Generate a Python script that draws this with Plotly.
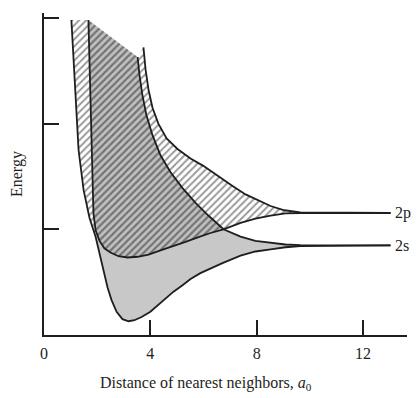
import numpy as np
import plotly.graph_objects as go

# Band edges (x: distance in a0, e: energy, arbitrary units)
# 2s band, lower edge
A_x = np.array([1.03, 1.11, 1.18, 1.30, 1.49, 1.71, 1.94, 2.09, 2.24, 2.39, 2.54, 2.73, 2.95, 3.18, 3.40,
                3.67, 4.00, 4.27, 4.57, 4.87, 5.21, 5.51, 5.88, 6.26, 6.71, 7.39, 7.95, 8.52, 9.08, 9.64, 13.03])
A_e = np.array([2.98, 2.60, 2.22, 1.75, 1.37, 1.11, 0.93, 0.76, 0.60, 0.45, 0.33, 0.22, 0.15, 0.13, 0.14,
                0.17, 0.22, 0.28, 0.35, 0.41, 0.47, 0.53, 0.585, 0.63, 0.68, 0.75, 0.79, 0.81, 0.83, 0.84, 0.847])
# 2p band, lower edge
B_x = np.array([1.67, 1.71, 1.75, 1.79, 1.82, 1.86, 1.94, 2.09, 2.27, 2.50, 2.80, 3.14, 3.52, 3.93, 4.38,
                4.83, 5.32, 5.81, 6.26, 6.75, 7.39, 7.95, 8.52, 9.08, 9.64, 13.03])
B_e = np.array([2.98, 2.60, 2.22, 1.75, 1.37, 1.15, 0.99, 0.89, 0.82, 0.78, 0.745, 0.733, 0.74, 0.76, 0.80,
                0.835, 0.88, 0.925, 0.965, 1.00, 1.06, 1.10, 1.13, 1.15, 1.154, 1.154])
# 2s band, upper edge
C_x = np.array([3.52, 3.59, 3.70, 3.85, 4.08, 4.38, 4.76, 5.21, 5.70, 6.18, 6.75, 7.39, 7.95, 8.52, 9.08,
                9.64, 13.03])
C_e = np.array([2.63, 2.46, 2.27, 2.08, 1.89, 1.70, 1.54, 1.39, 1.25, 1.13, 1.00, 0.93, 0.89, 0.87, 0.856,
                0.851, 0.847])
# 2p band, upper edge
D_x = np.array([3.74, 3.82, 3.93, 4.08, 4.30, 4.61, 5.02, 5.51, 5.99, 6.56, 7.09, 7.58, 8.06, 8.52, 9.04,
                9.64, 13.03])
D_e = np.array([2.72, 2.51, 2.32, 2.15, 2.00, 1.86, 1.76, 1.67, 1.60, 1.50, 1.41, 1.33, 1.27, 1.22, 1.18,
                1.16, 1.154])

X_CROSS = 6.75   # where 2p lower edge meets 2s upper edge
X_SPLIT = 1.94   # where the steep left edges come together

x_ticks = [0, 4, 8, 12]
y_ticks = [1, 2, 3]
level_labels = ["2p", "2s"]
level_e = [1.154, 0.847]

SERIF = "Liberation Serif"
INK = "#1e1e1e"
Y_MAX = 3.046

fig = go.Figure()

def poly(parts):
    xs = np.concatenate([p[0] for p in parts])
    ys = np.concatenate([p[1] for p in parts])
    return xs, ys

# strip between left edges (hatched)
m_a = A_x <= X_SPLIT + 1e-9
m_b = B_x <= X_SPLIT + 1e-9
sx, sy = poly([(A_x[m_a], A_e[m_a]), (B_x[m_b][::-1], B_e[m_b][::-1])])
fig.add_trace(go.Scatter(x=sx, y=sy, fill="toself", mode="none", fillcolor="white",
                         fillpattern=dict(shape="/", fgcolor="#333", bgcolor="white", size=5, solidity=0.4),
                         hoverinfo="skip", showlegend=False))

# gray 2s-only region
ma = A_x >= X_SPLIT - 1e-9
mc = C_x >= X_CROSS - 1e-9
mb = (B_x >= X_SPLIT - 1e-9) & (B_x <= X_CROSS + 1e-9)
gx, gy = poly([(A_x[ma], A_e[ma]), (C_x[mc][::-1], C_e[mc][::-1]), (B_x[mb][::-1], B_e[mb][::-1])])
fig.add_trace(go.Scatter(x=gx, y=gy, fill="toself", mode="none", fillcolor="#c8c8c8",
                         hoverinfo="skip", showlegend=False))

# overlap region (hatched on gray)
mb2 = B_x <= X_CROSS + 1e-9
mc2 = C_x <= X_CROSS + 1e-9
ox, oy = poly([(B_x[mb2], B_e[mb2]), (C_x[mc2][::-1], C_e[mc2][::-1])])
fig.add_trace(go.Scatter(x=ox, y=oy, fill="toself", mode="none", fillcolor="#bdbdbd",
                         fillpattern=dict(shape="/", fgcolor="#262626", bgcolor="#c0c0c0", size=5, solidity=0.45),
                         hoverinfo="skip", showlegend=False))

# 2p-only region (hatched)
mb3 = B_x >= X_CROSS - 1e-9
px_, py_ = poly([(D_x, D_e), (B_x[mb3][::-1], B_e[mb3][::-1]), (C_x[mc2][::-1], C_e[mc2][::-1])])
fig.add_trace(go.Scatter(x=px_, y=py_, fill="toself", mode="none", fillcolor="white",
                         fillpattern=dict(shape="/", fgcolor="#333", bgcolor="white", size=5, solidity=0.4),
                         hoverinfo="skip", showlegend=False))

for cx, ce in [(A_x, A_e), (B_x, B_e), (C_x, C_e), (D_x, D_e)]:
    fig.add_trace(go.Scatter(x=cx, y=ce, mode="lines", line=dict(color=INK, width=1.8),
                             hoverinfo="skip", showlegend=False))

for lab, e in zip(level_labels, level_e):
    fig.add_annotation(x=0.962, y=e / Y_MAX, xref="paper", yref="paper", text=lab, showarrow=False,
                       xanchor="left", yanchor="middle",
                       font=dict(family=SERIF, size=16, color=INK))

fig.add_annotation(x=0.446, y=-0.15, xref="paper", yref="paper",
                   text="Distance of nearest neighbors, <i>a</i><sub>0</sub>", showarrow=False,
                   xanchor="center", yanchor="middle", font=dict(family=SERIF, size=16, color=INK))
fig.add_annotation(x=0, y=0.5, xref="paper", yref="paper", xshift=-27, text="Energy", textangle=-90,
                   showarrow=False, xanchor="center", yanchor="middle",
                   font=dict(family=SERIF, size=16, color=INK))

# page body has an 8 px default margin, so the figure is 8 px smaller and shifted
fig.update_layout(
    width=411, height=390,
    margin=dict(l=36, r=12, t=5, b=63),
    paper_bgcolor="white", plot_bgcolor="white",
    xaxis=dict(range=[0, 13.65], tickvals=x_ticks, ticks="inside", ticklen=15, tickwidth=1.5, tickcolor=INK,
               showline=True, linecolor=INK, linewidth=1.5, showgrid=False, zeroline=False,
               ticklabelstandoff=3,
               tickfont=dict(family=SERIF, size=16, color=INK)),
    yaxis=dict(range=[0, Y_MAX], tickvals=y_ticks, ticks="inside", ticklen=15, tickwidth=1.5, tickcolor=INK,
               showticklabels=False, showline=True, linecolor=INK, linewidth=1.5, showgrid=False, zeroline=False),
)

fig.write_html("out.html")
